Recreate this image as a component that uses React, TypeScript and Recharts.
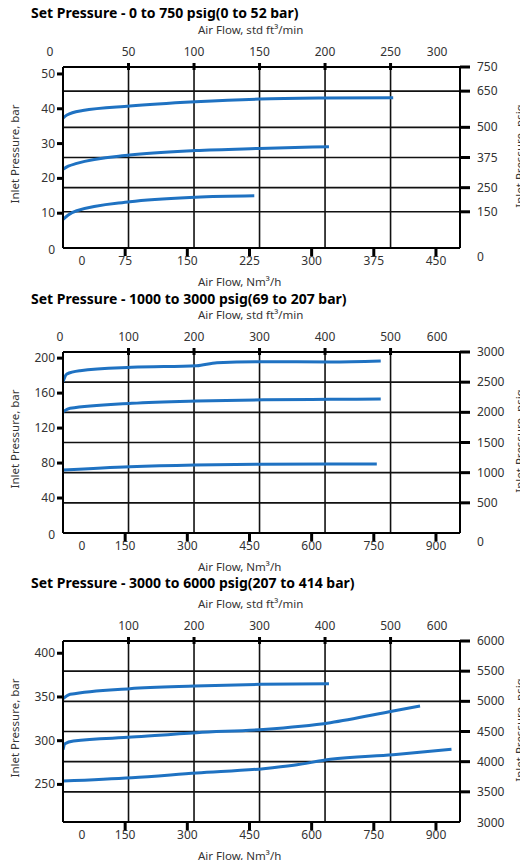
import React from "react";
import { ComposedChart, Line, XAxis, YAxis, ReferenceLine } from "recharts";

// ---- Set pressure 0-750 psig (flow in std ft3/min, pressure in bar) ----
const p1FlowHigh = [0, 3, 15, 51, 101, 150, 200, 252];
const p1BarHigh = [37.3, 38.2, 39.5, 40.8, 42.0, 42.8, 43.1, 43.2];
const p1FlowMid = [0, 4, 10.5, 51, 101, 150, 203];
const p1BarMid = [22.6, 23.5, 24.3, 26.7, 28.0, 28.6, 29.1];
const p1FlowLow = [0, 4, 10.5, 51, 101, 146];
const p1BarLow = [8.2, 9.5, 10.7, 13.3, 14.6, 15.0];

const p1TopTicks = [0, 50, 100, 150, 200, 250, 300];
const p1BottomTicks = [0, 75, 150, 225, 300, 375, 450];
const p1BarTicks = [0, 10, 20, 30, 40, 50];
const p1PsigTicks = [0, 150, 250, 375, 500, 650, 750];
const p1FlowGrid = [50, 100, 150, 200, 250];
const p1PsigGrid = [150, 250, 375, 500, 650];

// ---- Set pressure 1000-3000 psig ----
const p2FlowHigh = [0, 5.6, 26, 105, 204, 235, 306, 408, 485];
const p2BarHigh = [173, 181.8, 185.6, 189.5, 191.3, 194.8, 195.9, 195.6, 196.7];
const p2FlowMid = [0, 10.7, 105, 204, 306, 408, 485];
const p2BarMid = [138.7, 142.6, 148.3, 151, 152.4, 152.9, 153.2];
const p2FlowLow = [0, 102, 201, 301, 401, 479];
const p2BarLow = [72.0, 75.8, 77.8, 78.6, 78.9, 78.9];

const p2TopTicks = [0, 100, 200, 300, 400, 500, 600];
const p2BottomTicks = [0, 150, 300, 450, 600, 750, 900];
const p2BarTicks = [0, 40, 80, 120, 160, 200];
const p2PsigTicks = [0, 500, 1000, 1500, 2000, 2500, 3000];
const p2FlowGrid = [100, 200, 300, 400, 500];
const p2PsigGrid = [500, 1000, 1500, 2000, 2500];

// ---- Set pressure 3000-6000 psig ----
const p3FlowHigh = [0, 11, 102, 201, 301, 406];
const p3BarHigh = [348, 353, 359.5, 362.4, 364.4, 365.2];
const p3FlowMid = [0, 3, 16, 105, 204, 306, 408, 504, 545];
const p3BarMid = [289.7, 296.6, 299.6, 304.1, 309.2, 312.9, 320.6, 333.9, 339.6];
const p3FlowLow = [0, 105, 204, 306, 352, 408, 504, 593];
const p3BarLow = [253.9, 257.7, 263, 268, 271.8, 278.7, 284, 290.1];

const p3TopTicks = [100, 200, 300, 400, 500, 600];
const p3BottomTicks = [0, 150, 300, 450, 600, 750, 900];
const p3BarTicks = [250, 300, 350, 400];
const p3PsigTicks = [3000, 3500, 4000, 4500, 5000, 5500, 6000];
const p3FlowGrid = [100, 200, 300, 400, 500];
const p3PsigGrid = [3500, 4000, 4500, 5000, 5500];

const zip = (flow: number[], bar: number[]) => flow.map((cfm, i) => ({ cfm, bar: bar[i] }));

const FONT = "'Noto Sans', sans-serif";
const TICK_FILL = "#333";
const LINE_COLOR = "#1f72c2";
const PLOT_H = 181;
const AXIS_H = 30;

const panels = [
  {
    title: "Set Pressure - 0 to 750 psig(0 to 52 bar)",
    titleTop: 13,
    plotTop: 67,
    cfm: [0, 303],
    nm: [0, 479],
    bar: [0, 52],
    psig: [0, 750],
    topTicks: p1TopTicks,
    bottomTicks: p1BottomTicks,
    barTicks: p1BarTicks,
    psigTicks: p1PsigTicks,
    flowGrid: p1FlowGrid,
    psigGrid: p1PsigGrid,
    curves: [zip(p1FlowHigh, p1BarHigh), zip(p1FlowMid, p1BarMid), zip(p1FlowLow, p1BarLow)],
    topFirstDx: -13,
    psigMinDy: 9,
  },
  {
    title: "Set Pressure - 1000 to 3000 psig(69 to 207 bar)",
    titleTop: 299,
    plotTop: 352,
    cfm: [0, 606],
    nm: [0, 958],
    bar: [0, 207],
    psig: [0, 3000],
    topTicks: p2TopTicks,
    bottomTicks: p2BottomTicks,
    barTicks: p2BarTicks,
    psigTicks: p2PsigTicks,
    flowGrid: p2FlowGrid,
    psigGrid: p2PsigGrid,
    curves: [zip(p2FlowHigh, p2BarHigh), zip(p2FlowMid, p2BarMid), zip(p2FlowLow, p2BarLow)],
    topFirstDx: -3,
    psigMinDy: 9,
  },
  {
    title: "Set Pressure - 3000 to 6000 psig(207 to 414 bar)",
    titleTop: 583,
    plotTop: 641,
    cfm: [0, 606],
    nm: [0, 958],
    bar: [207, 414],
    psig: [3000, 6000],
    topTicks: p3TopTicks,
    bottomTicks: p3BottomTicks,
    barTicks: p3BarTicks,
    psigTicks: p3PsigTicks,
    flowGrid: p3FlowGrid,
    psigGrid: p3PsigGrid,
    curves: [zip(p3FlowHigh, p3BarHigh), zip(p3FlowMid, p3BarMid), zip(p3FlowLow, p3BarLow)],
    topFirstDx: 0,
    psigMinDy: 1,
  },
];

type Panel = (typeof panels)[number];

const textStyle = { fontFamily: FONT, fontSize: 12, fill: TICK_FILL };
const axisLine = { stroke: "#000", strokeWidth: 2 };

function ChartPanel({ cfg }: { cfg: Panel }) {
  const lastTop = cfg.topTicks[cfg.topTicks.length - 1];
  // rows for the Nm3/h axis, which carries no series of its own
  const nmRows = cfg.bottomTicks.map((nm) => ({ nm }));

  const topTick = (p: any) => {
    const v = p.payload.value;
    const isEnd = v === cfg.cfm[0] || v === lastTop;
    const dx = v === lastTop ? -19 : v === cfg.cfm[0] ? cfg.topFirstDx : 0;
    return (
      <g>
        {!isEnd && <line x1={p.x} x2={p.x} y1={p.y - 4} y2={p.y + 3} stroke="#000" strokeWidth={3} />}
        <text x={p.x + dx} y={p.y - 11} textAnchor="middle" style={textStyle}>{v}</text>
      </g>
    );
  };

  const bottomTick = (p: any) => {
    const v = p.payload.value;
    const isStart = v === cfg.nm[0];
    return (
      <g>
        {!isStart && <line x1={p.x} x2={p.x} y1={p.y - 1} y2={p.y + 8} stroke="#000" strokeWidth={3} />}
        <text x={p.x + (isStart ? 19 : 0)} y={p.y + 17} textAnchor="middle" style={textStyle}>{v}</text>
      </g>
    );
  };

  const leftTick = (p: any) => {
    const v = p.payload.value;
    return (
      <g>
        {v !== cfg.bar[0] && <line x1={p.x - 6} x2={p.x} y1={p.y} y2={p.y} stroke="#000" strokeWidth={3} />}
        <text x={p.x - 8} y={p.y + (v === cfg.bar[0] ? 6 : 4)} textAnchor="end" style={textStyle}>{v}</text>
      </g>
    );
  };

  const rightTick = (p: any) => {
    const v = p.payload.value;
    const isMin = v === cfg.psig[0];
    return (
      <g>
        {!isMin && <line x1={p.x} x2={p.x + 10} y1={p.y} y2={p.y} stroke="#000" strokeWidth={3} />}
        <text x={p.x + 17} y={p.y + 4 + (isMin ? cfg.psigMinDy : 0)} textAnchor="start" style={textStyle}>{v}</text>
      </g>
    );
  };

  const labelStyle: React.CSSProperties = {
    position: "absolute",
    fontFamily: FONT,
    fontSize: 11.5,
    color: TICK_FILL,
    lineHeight: "14px",
    whiteSpace: "nowrap",
  };
  const plotMid = cfg.plotTop + PLOT_H / 2;

  return (
    <>
      <div style={{ position: "absolute", left: 31, top: cfg.titleTop - 8, fontFamily: FONT, fontWeight: 700, fontSize: 14, lineHeight: "16px", color: "#000", whiteSpace: "nowrap" }}>
        {cfg.title}
      </div>
      <div style={{ ...labelStyle, left: 198, top: cfg.plotTop - 44 }}>Air Flow, std ft³/min</div>
      <div style={{ ...labelStyle, left: 198, top: cfg.plotTop + 208 }}>Air Flow, Nm³/h</div>
      <div style={{ ...labelStyle, left: 15, top: plotMid - 4, transform: "translate(-50%, -50%) rotate(-90deg)" }}>Inlet Pressure, bar</div>
      <div style={{ ...labelStyle, left: 520, top: plotMid - 2, transform: "translate(-50%, -50%) rotate(-90deg)" }}>Inlet Pressure, psig</div>
      <div style={{ position: "absolute", left: 0, top: cfg.plotTop - AXIS_H }}>
        <ComposedChart width={528} height={PLOT_H + AXIS_H * 2} data={nmRows} margin={{ top: 0, right: 0, bottom: 0, left: 0 }}>
          <XAxis xAxisId="cfm" dataKey="cfm" orientation="top" type="number" domain={cfg.cfm} ticks={cfg.topTicks}
            interval={0} height={AXIS_H} tickSize={0} tickMargin={0} tickLine={false} axisLine={axisLine} tick={topTick} allowDataOverflow />
          <XAxis xAxisId="nm" dataKey="nm" orientation="bottom" type="number" domain={cfg.nm} ticks={cfg.bottomTicks}
            interval={0} height={AXIS_H} tickSize={0} tickMargin={0} tickLine={false} axisLine={axisLine} tick={bottomTick} allowDataOverflow />
          <YAxis yAxisId="bar" orientation="left" type="number" domain={cfg.bar} ticks={cfg.barTicks}
            interval={0} width={63} tickSize={0} tickMargin={0} tickLine={false} axisLine={axisLine} tick={leftTick} allowDataOverflow />
          <YAxis yAxisId="psig" orientation="right" type="number" domain={cfg.psig} ticks={cfg.psigTicks}
            interval={0} width={68} tickSize={0} tickMargin={0} tickLine={false} axisLine={axisLine} tick={rightTick} allowDataOverflow />
          {cfg.flowGrid.map((v) => (
            <ReferenceLine key={"v" + v} x={v} xAxisId="cfm" yAxisId="bar" stroke="#111" strokeWidth={1.6} />
          ))}
          {cfg.psigGrid.map((v) => (
            <ReferenceLine key={"h" + v} y={v} xAxisId="cfm" yAxisId="psig" stroke="#111" strokeWidth={1.6} />
          ))}
          {cfg.curves.map((d, i) => (
            <Line key={i} data={d} xAxisId="cfm" yAxisId="bar" dataKey="bar" type="monotone"
              stroke={LINE_COLOR} strokeWidth={3} dot={false} activeDot={false} isAnimationActive={false} />
          ))}
        </ComposedChart>
      </div>
    </>
  );
}

export default function App() {
  return (
    <div style={{ position: "relative", margin: -8, width: 528, height: 868, overflow: "hidden", background: "#fff" }}>
      {panels.map((cfg) => (
        <ChartPanel key={cfg.title} cfg={cfg} />
      ))}
    </div>
  );
}
